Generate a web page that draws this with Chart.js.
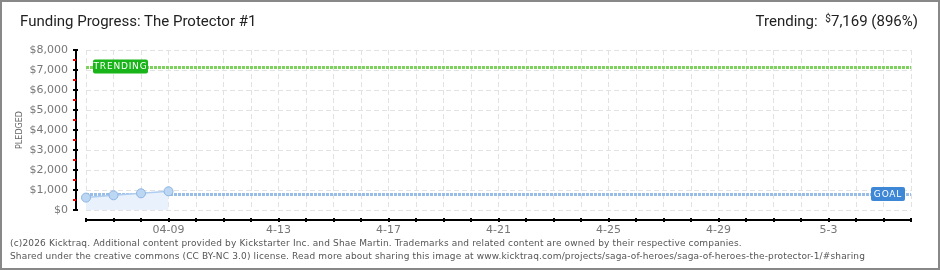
<!DOCTYPE html>
<html>
<head>
<meta charset="utf-8">
<script src="https://cdn.jsdelivr.net/npm/chart.js@4/dist/chart.umd.min.js"></script>
<style>
  html, body { margin: 0; padding: 0; background: #fff; }
  #wrap { position: relative; width: 940px; height: 270px; box-sizing: border-box; border: 2px solid #888; overflow: hidden; }
  #chart { position: absolute; left: -2px; top: -2px; }
  .title { position: absolute; left: 18px; top: 10px; font: 15px Roboto, "DejaVu Sans", sans-serif; color: #222; }
  .trend { position: absolute; right: 20px; top: 10px; font: 15px Roboto, "DejaVu Sans", sans-serif; color: #222; }
  .trend sup { font-size: 10px; vertical-align: 4px; margin-left: 4px; }
  .foot { position: absolute; left: 8px; top: 235px; font: 9px "DejaVu Sans", Tahoma, sans-serif; color: #555; line-height: 13px; letter-spacing: 0.15px; }
</style>
</head>
<body>
<div id="wrap">
  <canvas id="chart" width="940" height="270"></canvas>
  <div class="title">Funding Progress: The Protector #1</div>
  <div class="trend">Trending: <sup>$</sup>7,169 (896%)</div>
  <div class="foot">(c)2026 Kicktraq. Additional content provided by Kickstarter Inc. and Shae Martin. Trademarks and related content are owned by their respective companies.<br>Shared under the creative commons (CC BY-NC 3.0) license. Read more about sharing this image at www.kicktraq.com/projects/saga-of-heroes/saga-of-heroes-the-protector-1/#sharing</div>
</div>
<script>
// days shown on the x axis (Apr 6 -> May 6)
const days = ['4-6','4-7','4-8','04-09','4-10','4-11','4-12','4-13','4-14','4-15','4-16','4-17','4-18','4-19','4-20',
  '4-21','4-22','4-23','4-24','4-25','4-26','4-27','4-28','4-29','4-30','5-1','5-2','5-3','5-4','5-5','5-6'];
const shownTicks = ['04-09','4-13','4-17','4-21','4-25','4-29','5-3'];
const pledged = [620, 735, 835, 935];
const goal = 800;
const trending = 7169;

const axisFont = { family: '"DejaVu Sans", sans-serif', size: 11 };

// goal / trending lines, labels and the offset axes
const overlay = {
  id: 'overlay',
  beforeDatasetsDraw(chart) {
    const { ctx, chartArea: a, scales: { y } } = chart;
    const line = (v, color) => {
      const py = Math.round(y.getPixelForValue(v)) + 0.5;
      ctx.save();
      ctx.strokeStyle = color;
      ctx.lineWidth = 3;
      ctx.setLineDash([3, 1]);
      ctx.beginPath();
      ctx.moveTo(a.left, py);
      ctx.lineTo(a.right, py);
      ctx.stroke();
      ctx.restore();
    };
    line(trending, '#7dd25e');
    line(goal, '#98bde6');
  },
  afterDatasetsDraw(chart) {
    const { ctx, chartArea: a, scales: { y } } = chart;
    const tag = (text, v, x, w, color) => {
      const py = y.getPixelForValue(v);
      ctx.save();
      ctx.fillStyle = color;
      ctx.beginPath();
      ctx.roundRect(x, py - 7, w, 14, 2);
      ctx.fill();
      ctx.fillStyle = '#fff';
      ctx.font = '9px "DejaVu Sans", sans-serif';
      ctx.textBaseline = 'middle';
      ctx.textAlign = 'center';
      ctx.letterSpacing = '0.8px';
      ctx.fillText(text, x + w / 2, py + 0.5);
      ctx.restore();
    };
    tag('TRENDING', trending, a.left + 7, 55, '#19b419');
    tag('GOAL', goal, a.right - 40, 34, '#3d87d6');
  },
  afterDraw(chart) {
    const { ctx, chartArea: a, scales: { x, y } } = chart;
    ctx.save();
    ctx.strokeStyle = '#000';
    ctx.lineWidth = 2;
    // y axis
    const ax = a.left - 10;
    ctx.beginPath();
    ctx.moveTo(ax, a.top);
    ctx.lineTo(ax, a.bottom);
    ctx.stroke();
    y.ticks.forEach(t => {
      const py = Math.round(y.getPixelForValue(t.value));
      ctx.strokeStyle = '#000';
      ctx.beginPath();
      ctx.moveTo(ax - 3, py);
      ctx.lineTo(ax + 2, py);
      ctx.stroke();
      if (t.value < y.max) {
        const pm = Math.round(y.getPixelForValue(t.value + 500));
        ctx.strokeStyle = '#e00';
        ctx.beginPath();
        ctx.moveTo(ax - 3, pm);
        ctx.lineTo(ax, pm);
        ctx.stroke();
      }
    });
    // x axis
    const ay = a.bottom + 10;
    ctx.strokeStyle = '#000';
    ctx.beginPath();
    ctx.moveTo(a.left, ay);
    ctx.lineTo(a.right, ay);
    ctx.stroke();
    days.forEach((d, i) => {
      const px = Math.round(x.getPixelForValue(i));
      ctx.beginPath();
      ctx.moveTo(px, ay - 2);
      ctx.lineTo(px, ay + 2);
      ctx.stroke();
    });
    ctx.restore();
  }
};

new Chart(document.getElementById('chart'), {
  type: 'line',
  data: {
    labels: days,
    datasets: [{
      data: pledged,
      borderColor: '#aecdf0',
      borderWidth: 1.5,
      backgroundColor: '#e8f1fc',
      fill: 'origin',
      pointRadius: 4.5,
      pointBackgroundColor: '#bcd7f4',
      pointBorderColor: '#8db5e2',
      pointBorderWidth: 1,
      tension: 0,
      clip: false
    }]
  },
  options: {
    responsive: false,
    animation: false,
    events: [],
    layout: { padding: { top: 50, right: 29, left: 0, bottom: 0 } },
    plugins: { legend: { display: false }, tooltip: { enabled: false } },
    scales: {
      x: {
        offset: false,
        afterFit: s => { s.height = 60; },
        border: { display: false, dash: [5, 3] },
        grid: { color: '#e2e2e2', drawTicks: false },
        ticks: {
          autoSkip: false, maxRotation: 0, padding: 14,
          color: '#777', font: axisFont,
          callback: (v, i) => shownTicks.includes(days[i]) ? days[i] : ''
        }
      },
      y: {
        min: 0, max: 8000,
        afterFit: s => { s.width = 86; },
        border: { display: false, dash: [5, 3] },
        grid: { color: '#e2e2e2', drawTicks: false },
        ticks: {
          stepSize: 1000, padding: 18,
          color: '#777', font: axisFont,
          callback: v => '$' + v.toLocaleString('en-US')
        },
        title: { display: true, text: 'PLEDGED', color: '#666', font: { family: '"DejaVu Sans", sans-serif', size: 8 }, padding: { top: 15 } }
      }
    }
  },
  plugins: [overlay]
});
</script>
</body>
</html>
